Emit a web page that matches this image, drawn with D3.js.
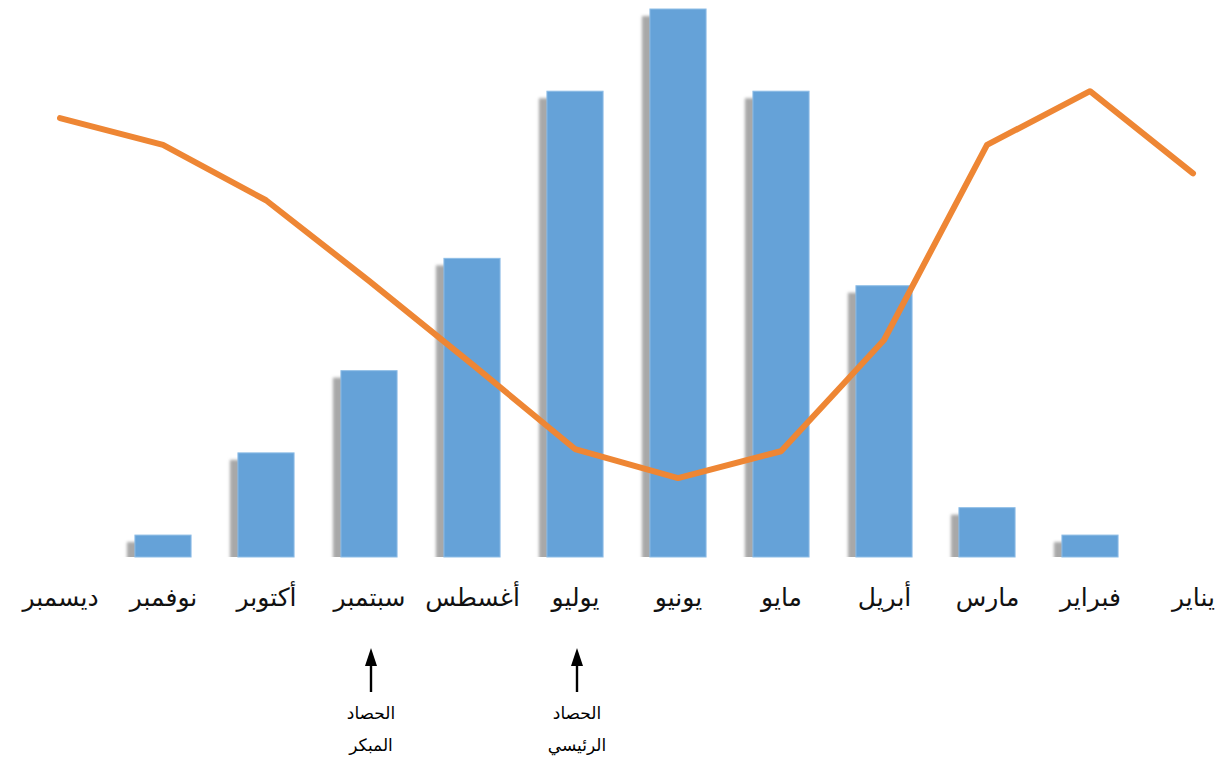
<!DOCTYPE html>
<html lang="ar">
<head>
<meta charset="utf-8">
<script src="https://cdn.jsdelivr.net/npm/d3@7"></script>
<style>
  html, body { margin: 0; padding: 0; background: #fff; }
  svg { display: block; }
  text { font-family: "DejaVu Sans", "Noto Sans", sans-serif; }
</style>
</head>
<body>
<svg id="chart" width="1222" height="769"></svg>
<script>
// Months, read right-to-left (January on the right)
const months = ["يناير", "فبراير", "مارس", "أبريل", "مايو", "يونيو", "يوليو", "أغسطس", "سبتمبر", "أكتوبر", "نوفمبر", "ديسمبر"];
// Bar series (relative units, June = 100)
const barValues = [0, 4, 9, 49.5, 85, 100, 85, 54.5, 34, 19, 4, 0];
// Line series (same relative units)
const lineValues = [70, 85, 75.2, 39.6, 19.3, 14.4, 19.7, 35.2, 50.4, 65.1, 75.2, 80.1];
// Annotated harvest months and their captions
const harvestMonths = ["سبتمبر", "يوليو"];
const harvestLabels = [["الحصاد", "المبكر"], ["الحصاد", "الرئيسي"]];

const svg = d3.select("#chart");
const baseline = 557;

const x = d3.scalePoint()
  .domain(months)
  .range([1193, 60]);
const barWidth = x.step() * 0.545;

const y = d3.scaleLinear()
  .domain([0, 100])
  .range([baseline, 9]);

const defs = svg.append("defs");
defs.append("filter")
  .attr("id", "soft")
  .attr("x", "-50%").attr("y", "-10%").attr("width", "200%").attr("height", "120%")
  .append("feGaussianBlur").attr("stdDeviation", 1.6);
defs.append("clipPath").attr("id", "plotClip")
  .append("rect").attr("x", 0).attr("y", 0).attr("width", 1222).attr("height", baseline);

const data = months.map((m, i) => ({ month: m, bar: barValues[i], line: lineValues[i] }));
const withBars = data.filter(d => d.bar > 0);

// Drop shadows behind the bars
svg.append("g")
  .attr("clip-path", "url(#plotClip)")
  .selectAll("rect")
  .data(withBars)
  .join("rect")
  .attr("x", d => x(d.month) - barWidth / 2 - 8)
  .attr("y", d => y(d.bar) + 7)
  .attr("width", barWidth)
  .attr("height", d => baseline - y(d.bar))
  .attr("fill", "#a8a8a8")
  .attr("filter", "url(#soft)");

// Bars
svg.append("g")
  .selectAll("rect")
  .data(withBars)
  .join("rect")
  .attr("x", d => x(d.month) - barWidth / 2)
  .attr("y", d => y(d.bar))
  .attr("width", barWidth)
  .attr("height", d => baseline - y(d.bar))
  .attr("fill", "#65a2d8")
  .attr("stroke", "#8dbde6")
  .attr("stroke-width", 1);

// Line
const line = d3.line()
  .x(d => x(d.month))
  .y(d => y(d.line));

svg.append("path")
  .datum(data)
  .attr("d", line)
  .attr("fill", "none")
  .attr("stroke", "#ee8634")
  .attr("stroke-width", 6)
  .attr("stroke-linejoin", "round")
  .attr("stroke-linecap", "round");

// Month labels
const axis = d3.axisBottom(x).tickSize(0).tickPadding(0);
const axisG = svg.append("g")
  .attr("transform", `translate(0, ${baseline + 31})`)
  .call(axis);
axisG.select(".domain").remove();
axisG.selectAll("text")
  .attr("direction", "rtl")
  .attr("font-size", 25)
  .attr("fill", "#111")
  .attr("dy", "0.71em");

// Harvest annotations: arrows pointing up at the month labels
const notes = svg.append("g")
  .selectAll("g")
  .data(harvestMonths.map((m, i) => ({ month: m, lines: harvestLabels[i] })))
  .join("g")
  .attr("transform", d => `translate(${x(d.month) + 2}, 0)`);

notes.append("line")
  .attr("x1", 0).attr("x2", 0)
  .attr("y1", 692).attr("y2", 664)
  .attr("stroke", "#000")
  .attr("stroke-width", 2.4);

notes.append("path")
  .attr("d", "M0,648 L-6,666 L6,666 Z")
  .attr("fill", "#000");

notes.selectAll("text")
  .data(d => d.lines)
  .join("text")
  .attr("x", 0)
  .attr("y", (d, i) => 719 + i * 32)
  .attr("text-anchor", "middle")
  .attr("direction", "rtl")
  .attr("font-size", 17)
  .attr("fill", "#000")
  .text(d => d);
</script>
</body>
</html>
